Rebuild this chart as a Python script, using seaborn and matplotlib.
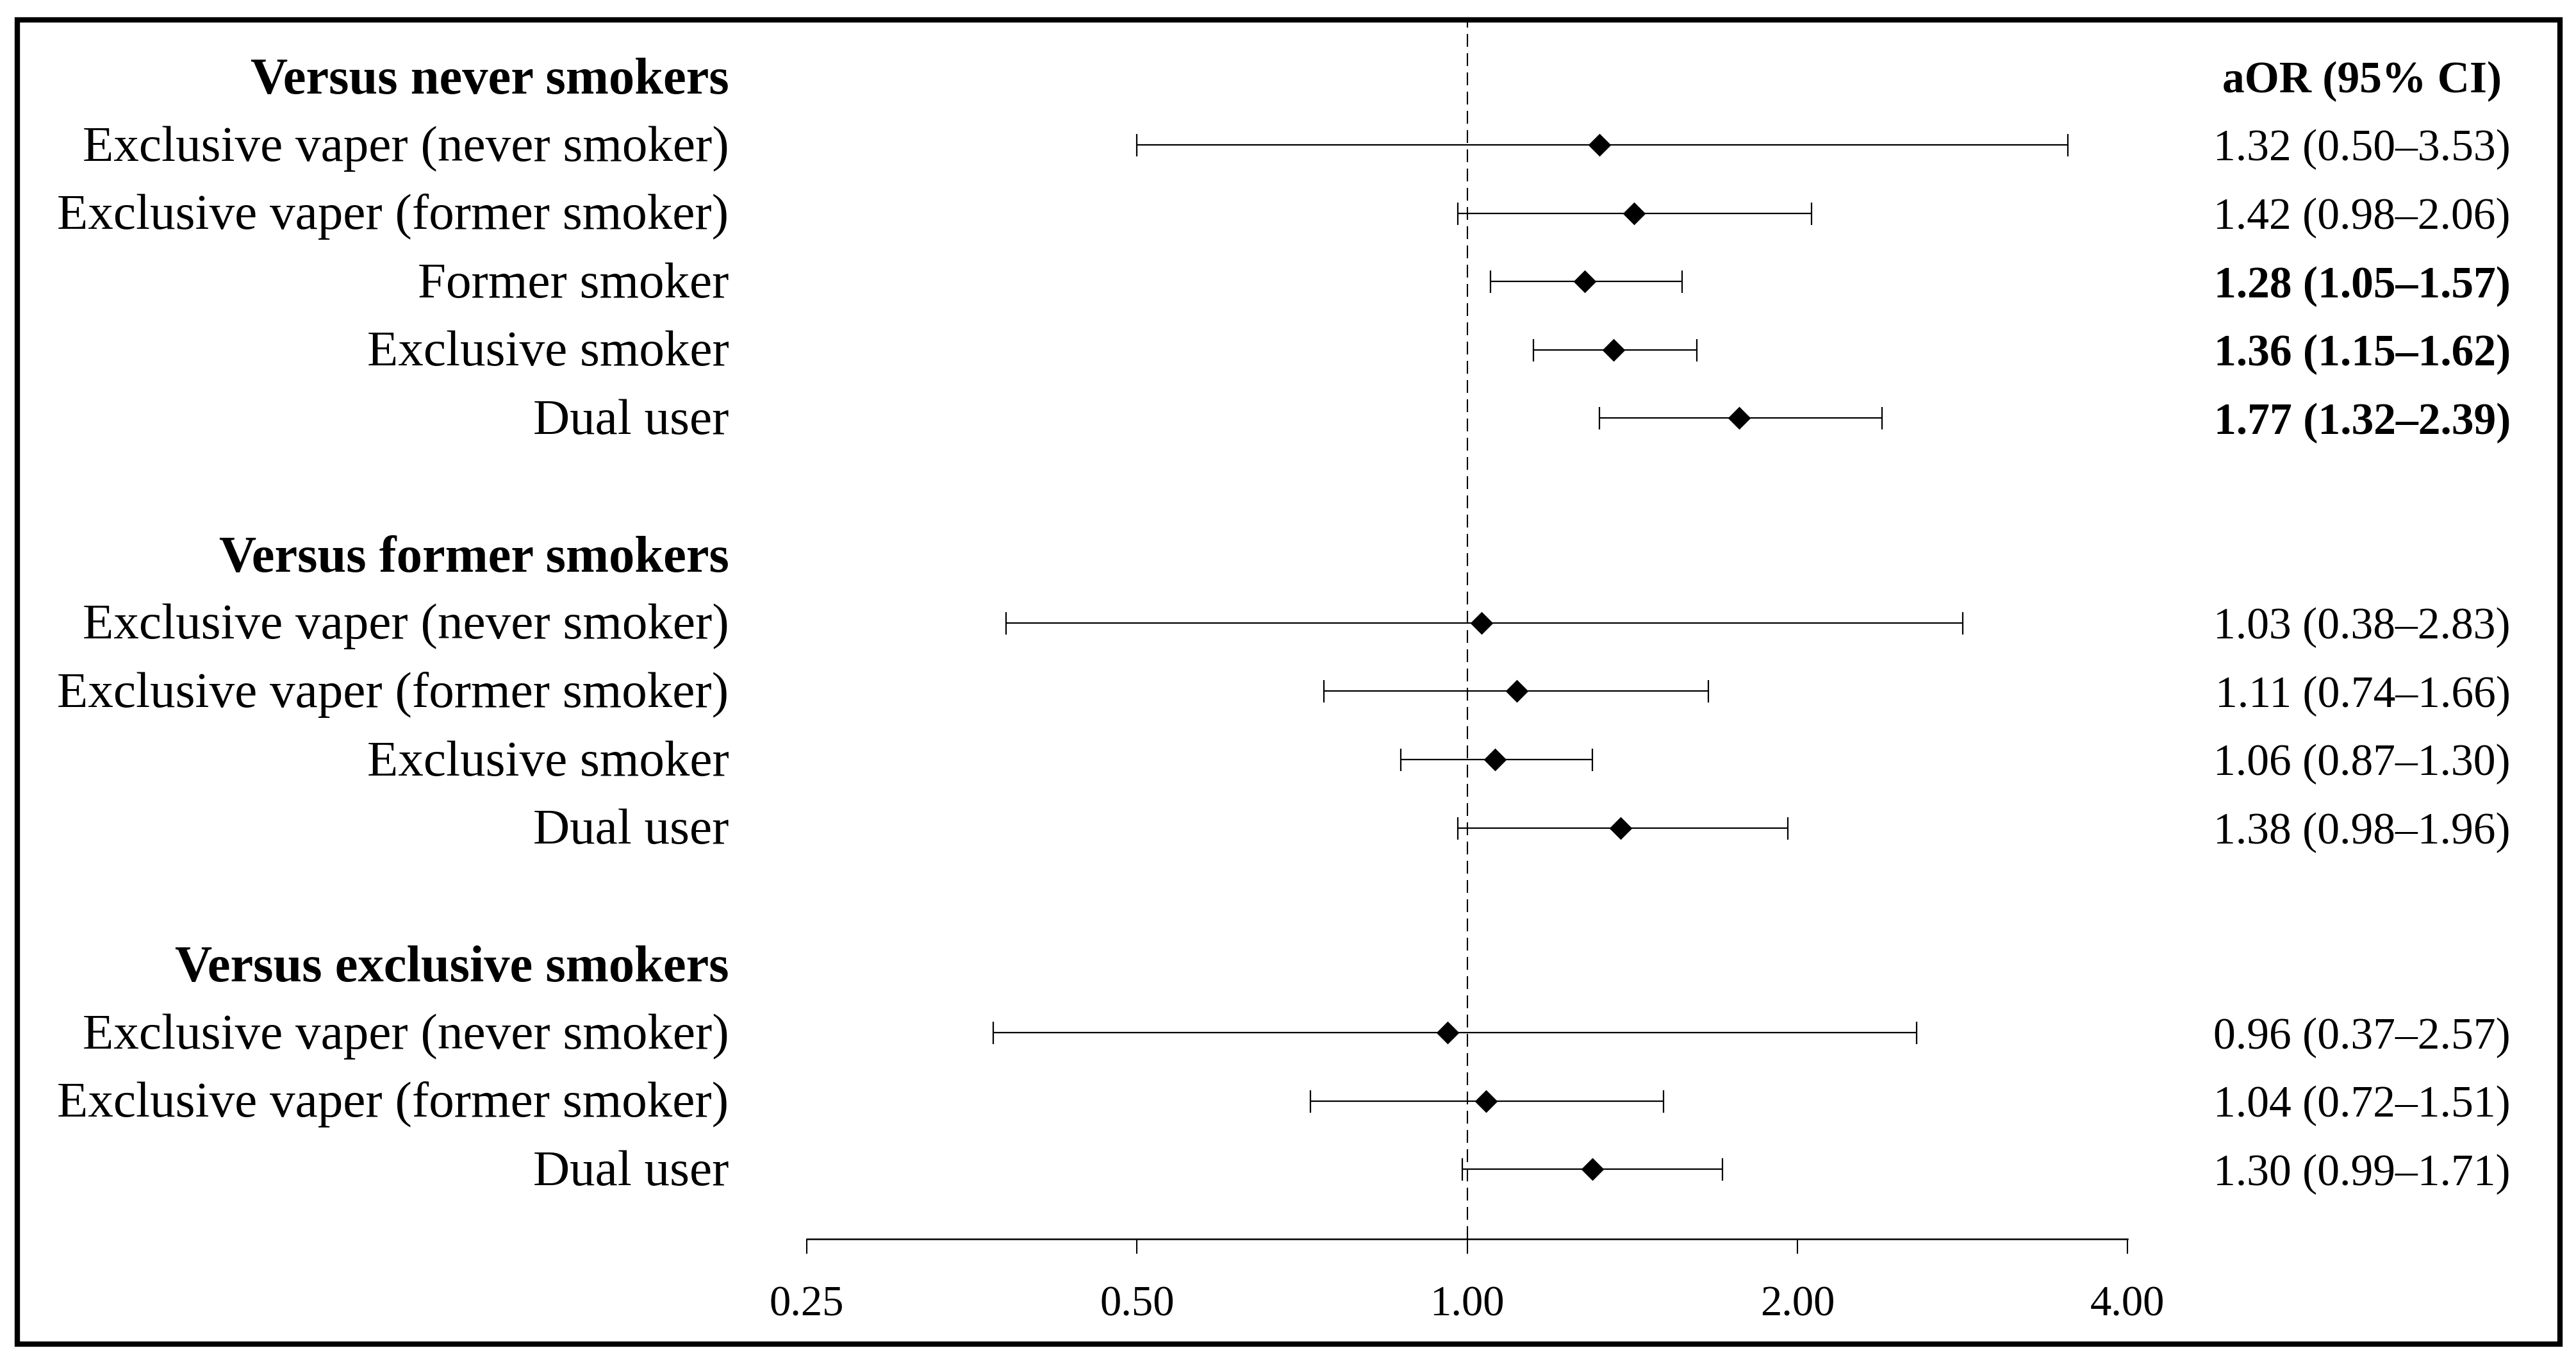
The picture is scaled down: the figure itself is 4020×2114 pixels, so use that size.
import numpy as np
import pandas as pd
import matplotlib.pyplot as plt
import seaborn as sns
from matplotlib.patches import Rectangle

# groups of comparisons
group_titles = ["Versus never smokers", "Versus former smokers", "Versus exclusive smokers"]

never_labels = ["Exclusive vaper (never smoker)", "Exclusive vaper (former smoker)",
                "Former smoker", "Exclusive smoker", "Dual user"]
never_aor = [1.32, 1.42, 1.28, 1.36, 1.77]
never_lo = [0.50, 0.98, 1.05, 1.15, 1.32]
never_hi = [3.53, 2.06, 1.57, 1.62, 2.39]
never_bold = [False, False, True, True, True]

former_labels = ["Exclusive vaper (never smoker)", "Exclusive vaper (former smoker)",
                 "Exclusive smoker", "Dual user"]
former_aor = [1.03, 1.11, 1.06, 1.38]
former_lo = [0.38, 0.74, 0.87, 0.98]
former_hi = [2.83, 1.66, 1.30, 1.96]
former_bold = [False, False, False, False]

excl_labels = ["Exclusive vaper (never smoker)", "Exclusive vaper (former smoker)", "Dual user"]
excl_aor = [0.96, 1.04, 1.30]
excl_lo = [0.37, 0.72, 0.99]
excl_hi = [2.57, 1.51, 1.71]
excl_bold = [False, False, False]

xticks = [0.25, 0.5, 1.0, 2.0, 4.0]
xticklabels = ["0.25", "0.50", "1.00", "2.00", "4.00"]

groups = [
    (never_labels, never_aor, never_lo, never_hi, never_bold),
    (former_labels, former_aor, former_lo, former_hi, former_bold),
    (excl_labels, excl_aor, excl_lo, excl_hi, excl_bold),
]

# build one table, rows counted from the top (header + items + blank line)
records = []
headers = []
row = 0
for title, (labels, aor, lo, hi, bold) in zip(group_titles, groups):
    headers.append((row, title))
    row += 1
    for lab, a, l, h, b in zip(labels, aor, lo, hi, bold):
        records.append({"row": row, "label": lab, "aor": a, "lo": l, "hi": h, "bold": b})
        row += 1
    row += 1
df = pd.DataFrame(records)

sns.set_style("white")
plt.rcParams["font.family"] = ["Liberation Serif", "DejaVu Serif"]
plt.rcParams["text.color"] = "black"

fig = plt.figure(figsize=(40.2, 21.14), dpi=100)
ax = fig.add_axes([0.3132, 0.0856, 0.5127, 0.8997])

ax.axvline(1.0, color="black", lw=1.5, ls=(0, (9.6, 4.8)), zorder=1)
ax.errorbar(df["aor"], df["row"], xerr=[df["aor"] - df["lo"], df["hi"] - df["aor"]],
            fmt="none", ecolor="black", elinewidth=1.6, capsize=12.6, capthick=1.6, zorder=2)
sns.scatterplot(data=df, x="aor", y="row", marker="D", s=330, color="black",
                linewidth=0, ax=ax, zorder=3, legend=False)

ax.set_xscale("log", base=2)
ax.set_xlim(0.25, 4)
ax.set_ylim(17.02, -0.83)
ax.set_xticks(xticks)
ax.set_xticklabels(xticklabels)
ax.minorticks_off()
ax.set_yticks([])
ax.set_xlabel("")
ax.set_ylabel("")
for s in ["top", "left", "right"]:
    ax.spines[s].set_visible(False)
ax.spines["bottom"].set_linewidth(1.8)
ax.spines["bottom"].set_color("black")
ax.tick_params(axis="x", direction="out", length=16.5, width=1.5, pad=36,
               labelsize=48, bottom=True, colors="black")

trans = ax.get_yaxis_transform()
for r, title in headers:
    ax.text(-0.059, r + 0.25, title, transform=trans, ha="right", va="baseline",
            fontsize=58, fontweight="bold")
for _, rec in df.iterrows():
    ax.text(-0.059, rec["row"] + 0.23, rec["label"], transform=trans, ha="right",
            va="baseline", fontsize=57)
    txt = f"{rec['aor']:.2f} ({rec['lo']:.2f}\u2013{rec['hi']:.2f})"
    ax.text(1.290, rec["row"] + 0.23, txt, transform=trans, ha="right", va="baseline",
            fontsize=50, fontweight="bold" if rec["bold"] else "normal")
ax.text(1.1776, headers[0][0] + 0.23, "aOR (95% CI)", transform=trans, ha="center",
        va="baseline", fontsize=50, fontweight="bold")

fig.add_artist(Rectangle((0.0067, 0.008), 0.9871, 0.9773, transform=fig.transFigure,
                         fill=False, lw=6, ec="black"))

fig.savefig("out.png", dpi=100)
